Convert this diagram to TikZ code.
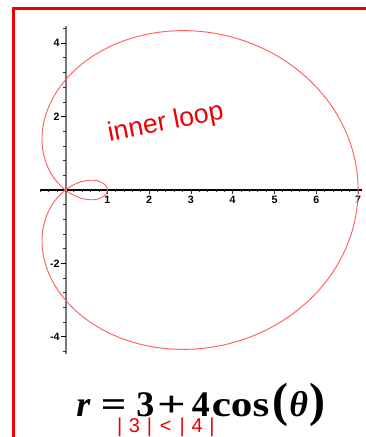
\documentclass[tikz,border=0pt]{standalone}
\usepackage{fontspec}
\usepackage{graphicx}
\setmainfont{Liberation Serif}
\newfontfamily\labelfont{Liberation Sans}
\usetikzlibrary{positioning}
\definecolor{FrameRed}{RGB}{240,0,0}
\definecolor{CurveRed}{RGB}{255,95,95}
\definecolor{InkRed}{RGB}{235,0,0}
\definecolor{AxisGray}{RGB}{120,120,120}

\begin{document}
\begin{tikzpicture}[
    x=31.35pt,
    y=27.525pt,
    frame/.style={
        draw=FrameRed,
        line width=2.6pt
    },
    axisx/.style={
        draw=black,
        line width=0.9pt
    },
    axisy/.style={
        draw=AxisGray,
        line width=1.5pt
    },
    tickmark/.style={
        draw=black!80,
        line width=0.6pt
    },
    ticklabel/.style={
        font=\labelfont\bfseries\fontsize{8}{8}\selectfont,
        inner sep=1pt
    },
    curve/.style={
        draw=CurveRed,
        line width=0.7pt
    },
    ink/.style={
        text=InkRed,
        inner sep=0pt,
        font=\labelfont\fontsize{20}{20}\selectfont
    }
]
\useasboundingbox (-1.567,-6.730) rectangle (7.165,5.177);

% frame
\draw[frame] (-1.244,-6.9) -- (-1.244,4.946) -- (7.3,4.946);

% axes
\draw[axisx] (-0.61,0) -- (7.09,0);
\draw[axisy] (0,-4.47) -- (0,4.47);

% ticks on x
\foreach \i in {-3,...,35}
    \draw[tickmark] (\i*0.2,0) -- ++(0,-0.06);
\foreach \i in {1,...,7}
    \draw[tickmark] (\i,0) -- ++(0,-0.12) node[ticklabel, below] (xl\i) {\i};

% ticks on y
\foreach \i in {-11,...,11}
    \draw[tickmark] (0,\i*0.4) -- ++(-0.05,0);
\foreach \i in {-4,-2,2,4}
    \draw[tickmark, draw=black] (0,\i) -- ++(-0.1,0) node[ticklabel, left] (yl\i) {\i};

% limacon
\draw[curve] plot[domain=0:360, samples=241, smooth]
    ({(3+4*cos(\x))*cos(\x)},{(3+4*cos(\x))*sin(\x)});

% notes
\node[ink, rotate=11] (innerloop) at (2.40,1.82) {inner loop};

\node[anchor=base, inner sep=0pt, font=\bfseries\fontsize{27}{27}\selectfont] (formula) at (3.24,-6.158)
    {\textit{r}\hspace{7.5pt}\scalebox{1.25}[1]{=}\hspace{7.5pt}3\hspace{2pt}\scalebox{1.4}[1]{+}\hspace{4.5pt}4\hspace{1.5pt}\scalebox{1.2}[1]{cos}\hspace{2pt}{\fontsize{36}{36}\selectfont(}\hspace{1pt}\textit{θ}\hspace{1pt}{\fontsize{36}{36}\selectfont)}};

\node[ink, anchor=base, font=\labelfont\fontsize{15}{15}\selectfont] (ineq) at (2.40,-6.62)
    {|\hspace{5pt}3\hspace{5pt}|\hspace{6pt}<\hspace{6pt}|\hspace{5pt}4\hspace{5pt}|};

\end{tikzpicture}
\end{document}
